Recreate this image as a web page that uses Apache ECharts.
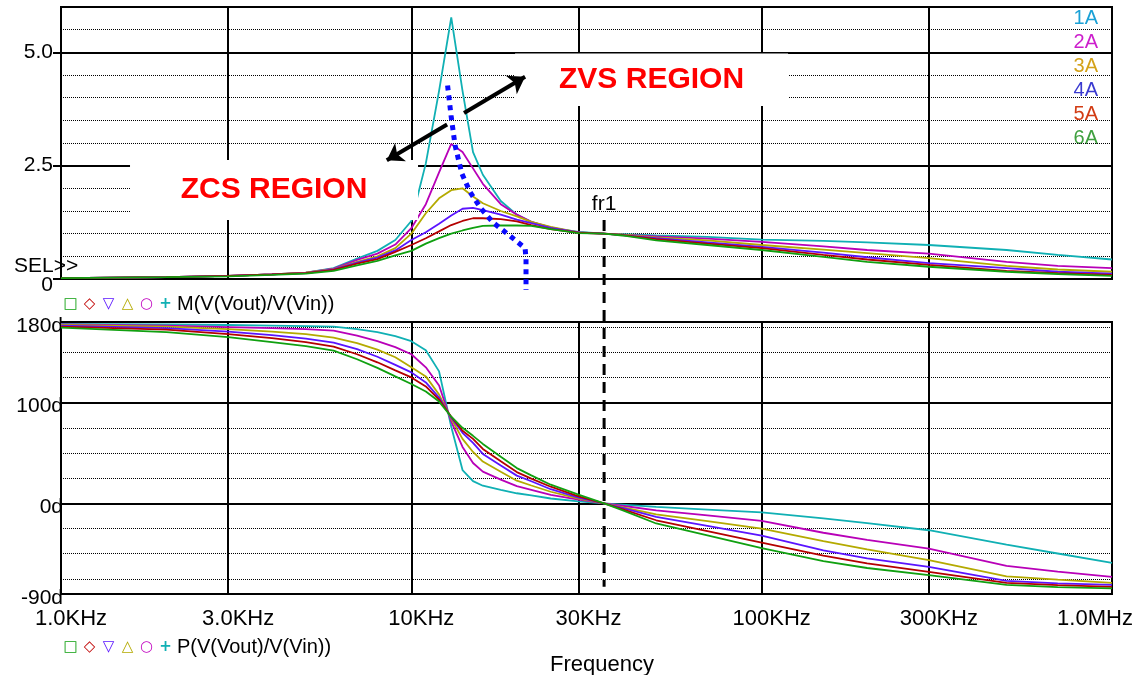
<!DOCTYPE html>
<html><head><meta charset="utf-8">
<script src="https://cdn.jsdelivr.net/npm/echarts@6/dist/echarts.min.js"></script>
<style>html,body{margin:0;padding:0;background:#fff}#c{width:1137px;height:675px}</style>
</head><body><div id="c"></div>
<script>
// ---------------- data ----------------
const freqs = [1000,2000,3000,4000,5000,6000,7000,8000,9000,10000,11000,12000,13000,14000,15000,16000,18000,20000,22000,25000,30000,35500,40000,50000,70000,100000,150000,200000,300000,500000,700000,1000000];
const seriesNames = ['1A','2A','3A','4A','5A','6A'];

const mag1A = [0.02,0.04,0.07,0.10,0.14,0.24,0.45,0.62,0.86,1.28,2.55,4.15,5.77,4.15,2.80,2.30,1.72,1.42,1.26,1.13,1.04,1.00,0.99,0.96,0.93,0.87,0.84,0.81,0.75,0.64,0.53,0.43];
const mag2A = [0.02,0.04,0.07,0.10,0.14,0.23,0.42,0.56,0.76,1.12,1.65,2.35,2.98,2.80,2.44,2.10,1.65,1.42,1.26,1.14,1.02,1.00,0.98,0.94,0.89,0.82,0.72,0.64,0.56,0.38,0.29,0.24];
const mag3A = [0.02,0.04,0.07,0.10,0.14,0.22,0.38,0.50,0.68,1.00,1.45,1.78,1.96,2.00,1.82,1.67,1.50,1.38,1.26,1.15,1.03,1.00,0.98,0.92,0.85,0.75,0.65,0.57,0.46,0.29,0.21,0.16];
const mag4A = [0.02,0.04,0.07,0.10,0.13,0.21,0.36,0.47,0.63,0.86,1.03,1.22,1.40,1.55,1.57,1.52,1.42,1.31,1.23,1.13,1.03,1.00,0.97,0.90,0.81,0.71,0.58,0.48,0.35,0.24,0.16,0.12];
const mag5A = [0.02,0.04,0.07,0.10,0.13,0.20,0.34,0.44,0.60,0.75,0.90,1.05,1.19,1.28,1.34,1.34,1.32,1.27,1.19,1.10,1.02,1.00,0.97,0.88,0.78,0.68,0.53,0.43,0.31,0.18,0.13,0.09];
const mag6A = [0.02,0.04,0.06,0.09,0.12,0.18,0.30,0.40,0.52,0.62,0.78,0.90,1.00,1.07,1.13,1.17,1.18,1.18,1.17,1.10,1.01,1.00,0.96,0.85,0.75,0.64,0.49,0.38,0.27,0.16,0.11,0.07];

const ph1A = [178,177.5,177,176.5,176,175.5,173,170,166,161,152,131,76,33,22,17.5,13.3,10,7.9,4.8,2,0,-1.2,-3.6,-6.2,-9,-15,-19.7,-26.7,-41,-49.8,-59];
const ph2A = [177.5,176.5,175,174,173,171.5,166.5,161,155,148,135,117,81,56,40,31.5,23.5,17,13.4,8.5,3.6,0,-2.4,-7,-12,-17.5,-29.2,-36.3,-45,-62,-67.7,-73];
const ph3A = [177,175.5,173,170.5,168,164.5,159,152.5,145,135,126,108,84,64,51,41.5,31.4,22.5,17.7,11.5,4.6,0,-3.7,-11,-17.7,-25,-37.6,-45.7,-56.4,-72.5,-75.8,-79];
const ph4A = [176.5,174,170.5,167,163.5,159.5,153,145.5,137.5,130,120,105,85,70,60,49,37.5,27.5,21.9,14,5.6,0,-4.6,-13.5,-22.4,-32,-46.6,-54.7,-63,-77,-79.4,-81];
const ph5A = [175.5,172.5,168,164,160,155.5,148,140,132,125,116,103,86,72,64,54,41.7,31,24.5,16.5,7,0,-5.7,-16.8,-27.5,-39,-52,-59.6,-68,-79,-81.1,-83];
const ph6A = [174.5,170,165,160,156,151.5,143,134.5,126,118.5,111,101,86,75,67,59,46.2,35,27.8,18.5,8.6,0,-6.8,-20,-31.8,-44.5,-57.3,-64.2,-71.3,-81,-83.2,-84.5];

const xTickValues = [1000,3000,10000,30000,100000,300000,1000000];
const xTickLabels = ['1.0KHz','3.0KHz','10KHz','30KHz','100KHz','300KHz','1.0MHz'];
const magTickValues = [0,2.5,5];
const magTickLabels = ['0','2.5','5.0'];
const magMajorLines = [2.5,5];
const magMinorLines = [0.5,1,1.5,2,3,3.5,4,4.5,5.5];
const phTickValues = [-90,0,100,180];
const phTickLabels = ['-90d','0d','100d','180d'];
const phMajorLines = [0,100];
const phMinorLines = [-75,-50,-25,25,50,75,125,150,175];
const xMajorLines = [3000,10000,30000,100000,300000];

// annotations (data units)
const fr1Freq = 35500;
const fr1Mag = [1.30,-6.79];
const boundaryF = [12690,12980,13330,13930,14710,15780,17150,19130,21120,21250,21250];
const boundaryM = [4.27,3.61,2.95,2.33,1.92,1.56,1.24,0.95,0.68,0.45,-0.24];
const arrowLeft = [[12650,3.41],[8510,2.62]];
const arrowRight = [[14140,3.66],[21120,4.46]];
const zcsBox = {f:[1574,10450], m:[1.30,2.625], text:'ZCS REGION'};
const zvsBox = {f:[19770,118950], m:[3.816,4.975], text:'ZVS REGION'};

// ---------------- styles ----------------
const FONT = 'Liberation Sans';
const lineColors = ['#10b0b4','#b800b8','#b4aa00','#5a14ff','#b40000','#10a010'];
const legendColors = ['#1ba1d6','#cc1fcc','#d4a21a','#3a3ad0','#d23c14','#3fa03f'];
const mags = [mag1A,mag2A,mag3A,mag4A,mag5A,mag6A];
const phs = [ph1A,ph2A,ph3A,ph4A,ph5A,ph6A];

const major = {type:'solid', width:2, color:'#000'};
const minor = {type:'dotted', width:1, color:'#000'};
function gridLines(majY, minY) {
  const d = [];
  minY.forEach(v => d.push({yAxis: v, lineStyle: minor}));
  majY.forEach(v => d.push({yAxis: v, lineStyle: major}));
  xMajorLines.forEach(v => d.push({xAxis: v, lineStyle: major}));
  return d;
}
function gridSeries(idx, majY, minY) {
  return {type:'line', xAxisIndex: idx, yAxisIndex: idx, data: [], silent: true, z: 1,
    markLine: {silent: true, symbol: 'none', animation: false, label: {show: false},
      emphasis: {disabled: true}, data: gridLines(majY, minY)}};
}
const series = [gridSeries(0, magMajorLines, magMinorLines), gridSeries(1, phMajorLines, phMinorLines)];
seriesNames.forEach((n, i) => {
  series.push({name: n, type: 'line', xAxisIndex: 0, yAxisIndex: 0, z: 6, silent: true,
    symbol: 'none', lineStyle: {width: 1.8, color: lineColors[i]}, itemStyle: {color: lineColors[i]},
    data: freqs.map((f, j) => [f, mags[i][j]])});
});
seriesNames.forEach((n, i) => {
  series.push({name: n, type: 'line', xAxisIndex: 1, yAxisIndex: 1, z: 6, silent: true,
    symbol: 'none', lineStyle: {width: 1.8, color: lineColors[i]}, itemStyle: {color: lineColors[i]},
    data: freqs.map((f, j) => [f, phs[i][j]])});
});
// ZVS/ZCS boundary (blue dotted)
series.push({type: 'line', xAxisIndex: 0, yAxisIndex: 0, z: 7, silent: true, clip: false, symbol: 'none',
  lineStyle: {color: '#0a0aff', width: 5, type: [5, 5], cap: 'butt'},
  data: boundaryF.map((f, j) => [f, boundaryM[j]])});
// arrows
series.push({type: 'lines', coordinateSystem: 'cartesian2d', xAxisIndex: 0, yAxisIndex: 0, z: 10, silent: true,
  symbol: ['none', 'arrow'], symbolSize: [0, 16],
  lineStyle: {color: '#000', width: 4, opacity: 1, curveness: 0},
  data: [{coords: arrowLeft}, {coords: arrowRight}]});
// fr1 marker
series.push({type: 'line', xAxisIndex: 0, yAxisIndex: 0, z: 11, silent: true, clip: false,
  showSymbol: true, symbol: 'circle', symbolSize: 1, itemStyle: {color: 'rgba(0,0,0,0)'},
  lineStyle: {color: '#000', width: 3, type: [11, 7]},
  data: [{value: [fr1Freq, fr1Mag[0]], label: {show: true, formatter: 'fr1', position: 'top', distance: 5,
           fontSize: 21, color: '#000', fontFamily: FONT}}, [fr1Freq, fr1Mag[1]]]});

function lookup(vals, labs, v) {
  for (let i = 0; i < vals.length; i++) if (Math.abs(vals[i] - v) <= Math.abs(vals[i]) * 1e-6 + 1e-9) return labs[i];
  return '';
}
const logAxisBase = {type: 'log', logBase: 10, min: 1000, max: 1000000,
  axisLine: {show: false}, splitLine: {show: false}, minorSplitLine: {show: false}};

function markerRich() {
  const mk = c => ({color: c, fontSize: 15, width: 19, align: 'center', fontFamily: 'DejaVu Sans', fontWeight: 'bold'});
  return {g: mk('#10a010'), r: mk('#c00000'), b: mk('#5a14ff'), o: mk('#b4aa00'), m: mk('#c000c0'), c: mk('#10b0b4'),
          t: {fontSize: 20, color: '#000', fontFamily: FONT, padding: [0, 0, 0, 2]}};
}

const option = {
  animation: false,
  backgroundColor: '#fff',
  textStyle: {fontFamily: FONT},
  grid: [
    {left: 61, top: 7, width: 1051, height: 272, show: true, borderColor: '#000', borderWidth: 2, backgroundColor: '#fff'},
    {left: 61, top: 322, width: 1051, height: 272, show: true, borderColor: '#000', borderWidth: 2, backgroundColor: '#fff'}
  ],
  xAxis: [
    Object.assign({}, logAxisBase, {gridIndex: 0, axisTick: {show: false}, axisLabel: {show: false}}),
    Object.assign({}, logAxisBase, {gridIndex: 1,
      axisTick: {show: true, customValues: xTickValues, length: 8, lineStyle: {color: '#000', width: 2}},
      axisLabel: {show: true, customValues: xTickValues, margin: 14, color: '#000', fontSize: 22, fontFamily: FONT,
        formatter: v => { const l = lookup(xTickValues, xTickLabels, v); return v >= 999999 ? '{b|' + l + '}' : '{a|' + l + '}'; },
        rich: {a: {fontSize: 22, fontFamily: FONT, color: '#000', padding: [0, 0, 0, 20]},
               b: {fontSize: 22, fontFamily: FONT, color: '#000', padding: [0, 34, 0, 0]}}}})
  ],
  yAxis: [
    {type: 'value', gridIndex: 0, min: 0, max: 6, axisLine: {show: false}, splitLine: {show: false},
      axisTick: {show: true, customValues: magTickValues, length: 8, lineStyle: {color: '#000', width: 2}},
      axisLabel: {customValues: magTickValues, margin: 8, color: '#000', fontSize: 21, fontFamily: FONT,
        formatter: v => { const l = lookup(magTickValues, magTickLabels, v); return v === 0 ? '{z|' + l + '}' : '{n|' + l + '}'; },
        rich: {z: {fontSize: 21, fontFamily: FONT, color: '#000', padding: [12, 0, 0, 0]},
               n: {fontSize: 21, fontFamily: FONT, color: '#000'}}}},
    {type: 'value', gridIndex: 1, min: -90, max: 180, axisLine: {show: false}, splitLine: {show: false},
      axisTick: {show: false},
      axisLabel: {customValues: phTickValues, margin: -2, color: '#000', fontSize: 21, fontFamily: FONT,
        formatter: v => '{n|' + lookup(phTickValues, phTickLabels, v) + '}',
        rich: {n: {fontSize: 21, fontFamily: FONT, color: '#000', padding: [8, 0, 0, 0]}}}}
  ],
  legend: {
    data: seriesNames.map((n, i) => ({name: n, textStyle: {color: legendColors[i]}})),
    orient: 'vertical', right: 39, top: 8, padding: 0, itemWidth: 0, itemHeight: 0, itemGap: 4,
    selectedMode: false, icon: 'rect',
    textStyle: {fontSize: 20, lineHeight: 20, fontFamily: FONT}
  },
  title: [
    {text: 'SEL>>', left: 9, top: 251, textStyle: {fontSize: 21, fontWeight: 'normal', color: '#000', fontFamily: FONT}},
    {text: 'Frequency', left: 545, top: 649, textStyle: {fontSize: 22, fontWeight: 'normal', color: '#000', fontFamily: FONT}},
    {text: '{g|□}{r|◇}{b|▽}{o|△}{m|○}{c|+}{t|M(V(Vout)/V(Vin))}', left: 56, top: 289,
      textStyle: {fontWeight: 'normal', rich: markerRich()}},
    {text: '{g|□}{r|◇}{b|▽}{o|△}{m|○}{c|+}{t|P(V(Vout)/V(Vin))}', left: 56, top: 632,
      textStyle: {fontWeight: 'normal', rich: markerRich()}}
  ],
  series: series
};

const chart = echarts.init(document.getElementById('c'), null, {renderer: 'canvas'});
chart.setOption(option);

// region boxes positioned through the chart's own scales
const p = (f, m) => chart.convertToPixel({gridIndex: 0}, [f, m]);
const graphics = [];
[zcsBox, zvsBox].forEach(b => {
  const a = p(b.f[0], b.m[1]);
  const c = p(b.f[1], b.m[0]);
  graphics.push({type: 'rect', z: 8, silent: true, shape: {x: a[0], y: a[1], width: c[0] - a[0], height: c[1] - a[1]}, style: {fill: '#fff'}});
  graphics.push({type: 'text', z: 9, silent: true, x: (a[0] + c[0]) / 2, y: (a[1] + c[1]) / 2,
    style: {text: b.text, fill: '#ff0000', fontSize: 30, fontWeight: 'bold', fontFamily: FONT, align: 'center', verticalAlign: 'middle'}});
});
chart.setOption({graphic: graphics});
</script>
</body></html>
